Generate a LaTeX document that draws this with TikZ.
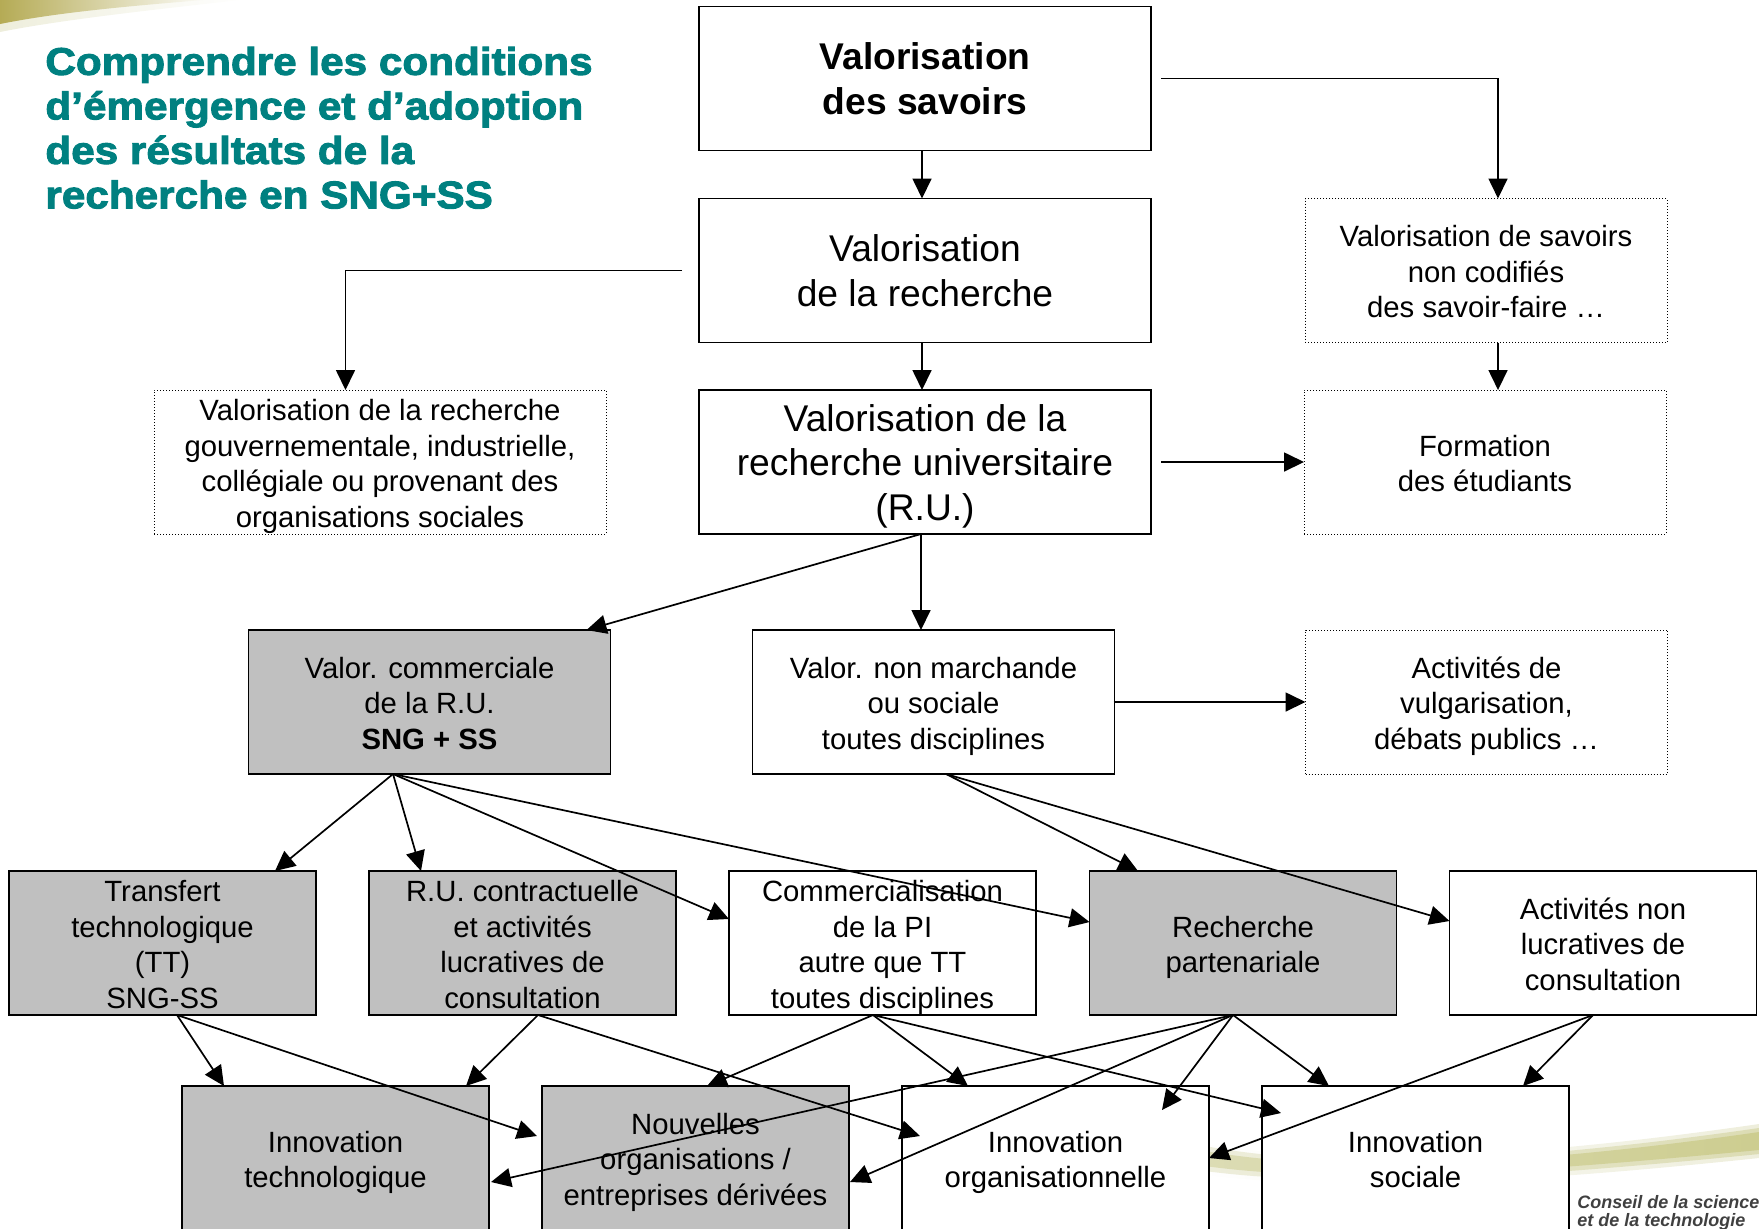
\documentclass[tikz,border=0pt]{standalone}
\usepackage{fontspec}
\setmainfont{Liberation Sans}
\newfontfamily\ttlfont[FakeStretch=1.095,BoldFeatures={FakeBold=2.5}]{Liberation Sans}
\usetikzlibrary{arrows.meta}
\definecolor{teal2}{HTML}{008080}
\definecolor{greyfill}{HTML}{C0C0C0}
\definecolor{olive1}{HTML}{B5AB55}
\definecolor{olive2}{HTML}{CDCD90}
\definecolor{olive3}{HTML}{DCDCB4}
\definecolor{olive4}{HTML}{EEEEDC}
% centres a block of lines on the node's middle, slightly low as in the reference
\newcommand\boxtxt[1]{\smash{\raisebox{\dimexpr(\depth-\height)/2-2.4pt\relax}{\begin{tabular}{@{}c@{}}#1\end{tabular}}}}
\tikzset{
  base/.style={inner sep=0pt,outer sep=0pt,minimum height=72pt,line width=0.9pt,font=\fontsize{14.65}{17.75}\selectfont},
  big/.style={font=\fontsize{18.6}{22.2}\selectfont},
  wide/.style={minimum width=226pt},
  mid/.style={minimum width=181pt},
  narrow/.style={minimum width=153.5pt},
  solidbox/.style={base,draw=black,fill=white},
  dotbox/.style={base,draw=black,fill=white,line width=0.5pt,densely dotted},
  greybox/.style={base,draw=black,fill=greyfill},
  arr/.style={-{Triangle[length=10pt,width=9.5pt]},line width=0.85pt,black},
}
\begin{document}
\begin{tikzpicture}[x=0.5pt,y=-0.5pt]
\useasboundingbox (0,0) rectangle (1759,1228);
% background swooshes
\shade[left color=olive4,right color=white] (0,-1) -- (250,-1) .. controls (150,10) and (60,20) .. (0,32) -- cycle;
\shade[left color=olive1,right color=white] (0,-1) -- (215,-1) .. controls (130,6) and (60,12) .. (0,24) -- cycle;
\shade[left color=white,right color=olive4] (1195,1142) .. controls (1350,1170) and (1550,1154) .. (1759,1124) -- (1759,1158) .. controls (1550,1180) and (1350,1194) .. (1195,1174) -- cycle;
\shade[left color=olive4,right color=olive3] (1205,1146) .. controls (1350,1173) and (1550,1158) .. (1759,1128) -- (1759,1154) .. controls (1550,1175) and (1350,1190) .. (1205,1171) -- cycle;
\shade[left color=olive3,right color=olive2] (1205,1151) .. controls (1350,1176) and (1550,1162) .. (1759,1132) -- (1759,1150) .. controls (1550,1170) and (1350,1186) .. (1205,1166) -- cycle;
% title
\node[anchor=north west,inner sep=0pt,align=left,text=teal2,font=\ttlfont\bfseries\fontsize{19.3}{22.25}\selectfont] (title) at (45,46.5)
  {Comprendre les conditions\\d’émergence et d’adoption\\des résultats de la\\recherche en SNG+SS};
% logo text
\node[anchor=north west,inner sep=0pt,align=left,text=black!75,font=\bfseries\itshape\fontsize{9}{9}\selectfont] (logo) at (1577,1195)
  {Conseil de la science\\et de la technologie};
% boxes
\node[solidbox,wide,big] (sav) at (925,78.5) {\boxtxt{\textbf{Valorisation}\\\textbf{des savoirs}}};
\node[solidbox,wide,big] (rec) at (925,270.5) {\boxtxt{Valorisation\\de la recherche}};
\node[solidbox,wide,big] (ru) at (925,462) {\boxtxt{Valorisation de la\\recherche universitaire\\(R.U.)}};
\node[dotbox,mid] (codif) at (1486,270.5) {\boxtxt{Valorisation de savoirs\\non codifiés\\des savoir-faire …}};
\node[dotbox,mid] (form) at (1485,462) {\boxtxt{Formation\\des étudiants}};
\node[dotbox,wide] (gouv) at (380,462) {\boxtxt{Valorisation de la recherche\\gouvernementale, industrielle,\\collégiale ou provenant des\\organisations sociales}};
\node[greybox,mid] (com) at (429.5,702) {\boxtxt{Valor. commerciale\\de la R.U.\\\textbf{SNG + SS}}};
\node[solidbox,mid] (nm) at (933.5,702) {\boxtxt{Valor. non marchande\\ou sociale\\toutes disciplines}};
\node[dotbox,mid] (act) at (1486.5,702) {\boxtxt{Activités de\\vulgarisation,\\débats publics …}};
\node[greybox,narrow] (tt) at (162.5,943) {\boxtxt{Transfert\\technologique\\(TT)\\SNG-SS}};
\node[greybox,narrow] (ctr) at (522.5,943) {\boxtxt{R.U. contractuelle\\et activités\\lucratives de\\consultation}};
\node[solidbox,narrow] (pi) at (882.5,943) {\boxtxt{Commercialisation\\de la PI\\autre que TT\\toutes disciplines}};
\node[greybox,narrow] (part) at (1243,943) {\boxtxt{Recherche\\partenariale}};
\node[solidbox,narrow] (cons) at (1603,943) {\boxtxt{Activités non\\lucratives de\\consultation}};
\node[greybox,narrow] (it) at (335.5,1158) {\boxtxt{Innovation\\technologique}};
\node[greybox,narrow] (np) at (695.5,1158) {\boxtxt{Nouvelles\\organisations /\\entreprises dérivées}};
\node[solidbox,narrow] (org) at (1055.5,1158) {\boxtxt{Innovation\\organisationnelle}};
\node[solidbox,narrow] (soc) at (1415.5,1158) {\boxtxt{Innovation\\sociale}};
% connectors
\draw[arr] ([xshift=-1.5pt]sav.south) -- ([xshift=-1.5pt]rec.north);
\draw[arr] ([xshift=-1.5pt]rec.south) -- ([xshift=-1.5pt]ru.north);
\draw[arr] ([xshift=5pt]sav.east) -| ([xshift=6pt]codif.north);
\draw[arr] ([xshift=-8.5pt]rec.west) -| ([xshift=-17.25pt]gouv.north);
\draw[arr] ([xshift=6pt]codif.south) -- ([xshift=6.5pt]form.north);
\draw[arr] ([xshift=5pt]ru.east) -- (form.west);
\draw[arr] ([xshift=-2pt]ru.south) -- ([xshift=-12pt]com.north east);
\draw[arr] ([xshift=-2pt]ru.south) -- ([xshift=-6.25pt]nm.north);
\draw[arr] ([xshift=-0.5pt]nm.east) -- (act.west);
\draw[arr] ([xshift=-18.25pt]com.south) -- ([xshift=56.25pt]tt.north);
\draw[arr] ([xshift=-18.25pt]com.south) -- ([xshift=-50.75pt]ctr.north);
\draw[arr] ([xshift=-18.25pt]com.south) -- ([yshift=12pt]pi.west);
\draw[arr] ([xshift=-18.25pt]com.south) -- ([yshift=10.5pt]part.west);
\draw[arr] ([xshift=6.25pt]nm.south) -- ([xshift=-52.5pt]part.north);
\draw[arr] ([xshift=6.25pt]nm.south) -- ([yshift=11pt]cons.west);
\draw[arr] ([xshift=7.25pt]tt.south) -- ([xshift=-55.75pt]it.north);
\draw[arr] ([xshift=7.25pt]tt.south) -- ([xshift=-2.5pt,yshift=11pt]np.west);
\draw[arr] ([xshift=7.75pt]ctr.south) -- ([xshift=65.25pt]it.north);
\draw[arr] ([xshift=7.75pt]ctr.south) -- ([xshift=9pt,yshift=11pt]org.west);
\draw[arr] ([xshift=-4.75pt]pi.south) -- ([xshift=5.75pt]np.north);
\draw[arr] ([xshift=-4.75pt]pi.south) -- ([xshift=-43.75pt]org.north);
\draw[arr] ([xshift=-4.75pt]pi.south) -- ([xshift=9.5pt,yshift=22.5pt]soc.west);
\draw[arr] ([xshift=-5pt]part.south) -- ([xshift=1pt,yshift=-12pt]it.east);
\draw[arr] ([xshift=-5pt]part.south) -- ([xshift=0.5pt,yshift=-12pt]np.east);
\draw[arr] ([xshift=-5pt]part.south) -- ([xshift=-23.5pt,yshift=-12pt]org.north east);
\draw[arr] ([xshift=-5pt]part.south) -- ([xshift=-43.25pt]soc.north);
\draw[arr] ([xshift=-5pt]cons.south) -- ([xshift=53.75pt]soc.north);
\draw[arr] ([xshift=-5pt]cons.south) -- (org.east);
\end{tikzpicture}
\end{document}
